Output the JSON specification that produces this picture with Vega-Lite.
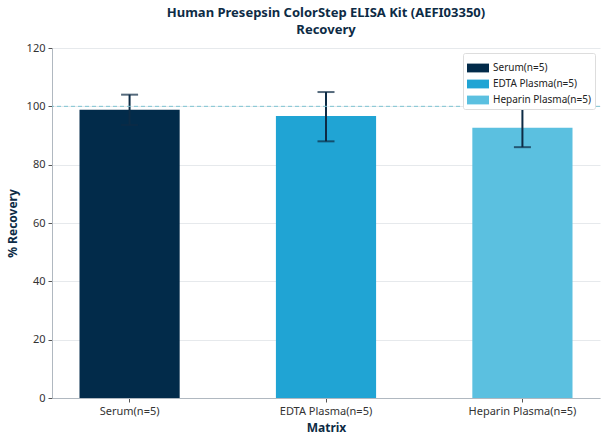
{
  "$schema": "https://vega.github.io/schema/vega-lite/v6.json",
  "width": 548,
  "height": 350,
  "autosize": {"type": "none"},
  "padding": {"left": 52, "top": 48, "right": 8, "bottom": 46},
  "background": "white",
  "title": {
    "text": ["Human Presepsin ColorStep ELISA Kit (AEFI03350)", "Recovery"],
    "font": "Noto Sans",
    "fontSize": 13,
    "fontWeight": "bold",
    "color": "#0d2b45",
    "lineHeight": 17,
    "anchor": "middle",
    "offset": 5
  },
  "data": {
    "values": [
      {"matrix": "Serum(n=5)", "recovery": 98.8, "low": 93.6, "high": 104.0},
      {"matrix": "EDTA Plasma(n=5)", "recovery": 96.7, "low": 88.0, "high": 104.9},
      {"matrix": "Heparin Plasma(n=5)", "recovery": 92.7, "low": 86.0, "high": 99.4}
    ]
  },
  "layer": [
    {
      "mark": {"type": "bar"},
      "encoding": {
        "x": {
          "field": "matrix",
          "type": "nominal",
          "sort": null,
          "title": "Matrix",
          "scale": {"paddingInner": 0.49, "paddingOuter": 0.14},
          "axis": {"labelAngle": 0}
        },
        "y": {
          "field": "recovery",
          "type": "quantitative",
          "title": "% Recovery",
          "scale": {"domain": [0, 120]},
          "axis": {"values": [0, 20, 40, 60, 80, 100, 120]}
        },
        "color": {
          "field": "matrix",
          "type": "nominal",
          "sort": null,
          "title": null,
          "scale": {"range": ["#022b4a", "#20a4d4", "#5bc0e0"]},
          "legend": {
            "orient": "top-right",
            "offset": 5,
            "symbolType": "M-1,-0.4L1,-0.4L1,0.4L-1,0.4Z",
            "symbolSize": 484,
            "symbolStrokeWidth": 0,
            "labelFont": "Noto Sans",
            "labelFontSize": 10,
            "labelColor": "#222222",
            "fillColor": "white",
            "strokeColor": "#dddddd",
            "padding": 4,
            "rowPadding": -2,
            "cornerRadius": 2
          }
        }
      }
    },
    {
      "mark": {"type": "rule", "color": "#0d2b45", "strokeWidth": 2},
      "encoding": {
        "x": {"field": "matrix", "type": "nominal", "sort": null},
        "y": {"field": "low", "type": "quantitative"},
        "y2": {"field": "high"}
      }
    },
    {
      "mark": {"type": "tick", "orient": "horizontal", "color": "#0d2b45", "thickness": 2, "size": 17},
      "encoding": {
        "x": {"field": "matrix", "type": "nominal", "sort": null},
        "y": {"field": "low", "type": "quantitative"}
      }
    },
    {
      "mark": {"type": "tick", "orient": "horizontal", "color": "#0d2b45", "thickness": 2, "size": 17},
      "encoding": {
        "x": {"field": "matrix", "type": "nominal", "sort": null},
        "y": {"field": "high", "type": "quantitative"}
      }
    },
    {
      "data": {"values": [{"target": 100}]},
      "mark": {"type": "rule", "color": "#7ec3d2", "strokeDash": [4, 3], "strokeWidth": 1},
      "encoding": {
        "y": {"field": "target", "type": "quantitative"}
      }
    }
  ],
  "config": {
    "view": {"stroke": null},
    "font": "Noto Sans",
    "axis": {
      "labelFont": "Noto Sans",
      "labelFontSize": 11,
      "labelColor": "#333333",
      "titleFont": "Noto Sans",
      "titleFontSize": 12,
      "titleFontWeight": "bold",
      "titleColor": "#0d2b45",
      "domainColor": "#b0b8c0",
      "tickColor": "#555555",
      "tickSize": 4
    },
    "axisX": {"grid": false, "titlePadding": 6, "labelPadding": 3},
    "axisY": {"grid": true, "gridColor": "#e6e9ec", "titlePadding": 7, "labelPadding": 3}
  }
}
